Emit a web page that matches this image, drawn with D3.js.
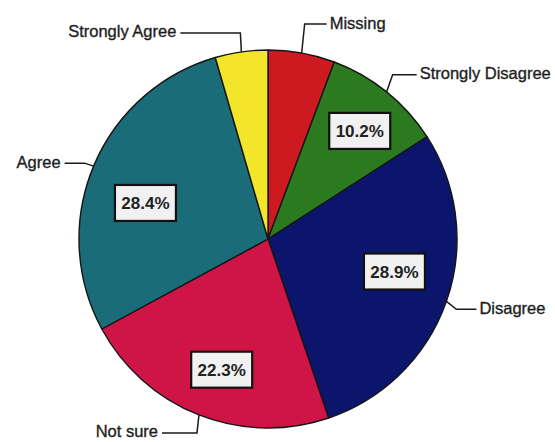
<!DOCTYPE html>
<html>
<head>
<meta charset="utf-8">
<script src="https://cdn.jsdelivr.net/npm/d3@7/dist/d3.min.js"></script>
<style>
  html, body { margin: 0; padding: 0; background: #fff; }
  svg { display: block; }
  text { font-family: "Liberation Sans", Arial, sans-serif; }
</style>
</head>
<body>
<svg id="chart" width="555" height="442"></svg>
<script>
// Survey responses (percent of respondents), clockwise from 12 o'clock
const categories = ["Missing", "Strongly Disagree", "Disagree", "Not sure", "Agree", "Strongly Agree"];
const values = [5.7, 10.2, 28.9, 22.3, 28.4, 4.5];
const sliceColors = ["#cc1a20", "#2b7a1f", "#0b156c", "#cf1545", "#1a6c78", "#f3e62a"];

// Percentage boxes are shown only for the larger slices
const boxMin = 10;

// Leader-line geometry per category: elbow offset from the rim point, then horizontal run
const leaderLayout = [
  { dx: 3,  dy: -29, run: 22 },
  { dx: 6,  dy: -17, run: 24 },
  { dx: 10, dy: 8,   run: 20 },
  { dx: -2, dy: 18,  run: -35 },
  { dx: -9, dy: -3,  run: -20 },
  { dx: -1, dy: -19, run: -60 }
];
// Small nudges of the percentage boxes from their centroid position
const boxNudge = [
  null,
  { dx: 7, dy: -3 },
  { dx: -1, dy: -12 },
  { dx: 3, dy: 5 },
  { dx: 2, dy: 16 },
  null
];

const cx = 268, cy = 239, R = 189, boxR = 135;
const svg = d3.select("#chart");
const g = svg.append("g").attr("transform", `translate(${cx},${cy})`);

const pie = d3.pie().sort(null).value(d => d.value);
const arcs = pie(categories.map((c, i) => ({ cat: c, value: values[i], i })));

const arc = d3.arc().innerRadius(0).outerRadius(R);

g.selectAll("path.slice")
  .data(arcs)
  .join("path")
  .attr("class", "slice")
  .attr("d", arc)
  .attr("fill", d => sliceColors[d.data.i])
  .attr("stroke", "#151515")
  .attr("stroke-width", 1.4)
  .attr("stroke-linejoin", "round");

// Leader lines and category names
const pointAt = (a, r) => [Math.sin(a) * r, -Math.cos(a) * r];

arcs.forEach(d => {
  const i = d.data.i;
  const mid = (d.startAngle + d.endAngle) / 2;
  const [rx, ry] = pointAt(mid, R);
  const L = leaderLayout[i];
  const ex = rx + L.dx, ey = ry + L.dy;
  const hx = ex + L.run;
  g.append("path")
    .attr("d", d3.line()([[rx, ry], [ex, ey], [hx, ey]]))
    .attr("fill", "none")
    .attr("stroke", "#1a1a1a")
    .attr("stroke-width", 1.5);
  const right = L.run > 0;
  g.append("text")
    .attr("x", hx + (right ? 3 : -4))
    .attr("y", ey - 1.5)
    .attr("text-anchor", right ? "start" : "end")
    .attr("dominant-baseline", "central")
    .attr("font-size", 16.5)
    .attr("fill", "#1e1e1e")
    .attr("stroke", "#1e1e1e")
    .attr("stroke-width", 0.35)
    .text(d.data.cat);
});

// Percentage boxes
const boxW = 61, boxH = 36;
arcs.filter(d => d.data.value >= boxMin).forEach(d => {
  const i = d.data.i;
  const mid = (d.startAngle + d.endAngle) / 2;
  const [px, py] = pointAt(mid, boxR);
  const n = boxNudge[i] || { dx: 0, dy: 0 };
  const bx = px + n.dx, by = py + n.dy;
  g.append("rect")
    .attr("x", bx - boxW / 2)
    .attr("y", by - boxH / 2)
    .attr("width", boxW)
    .attr("height", boxH)
    .attr("fill", "#f1f1f1")
    .attr("stroke", "#111")
    .attr("stroke-width", 2.2);
  g.append("text")
    .attr("x", bx)
    .attr("y", by + 1)
    .attr("text-anchor", "middle")
    .attr("dominant-baseline", "central")
    .attr("font-size", 17)
    .attr("font-weight", "bold")
    .attr("fill", "#222")
    .text(d3.format(".1f")(d.data.value) + "%");
});
</script>
</body>
</html>
